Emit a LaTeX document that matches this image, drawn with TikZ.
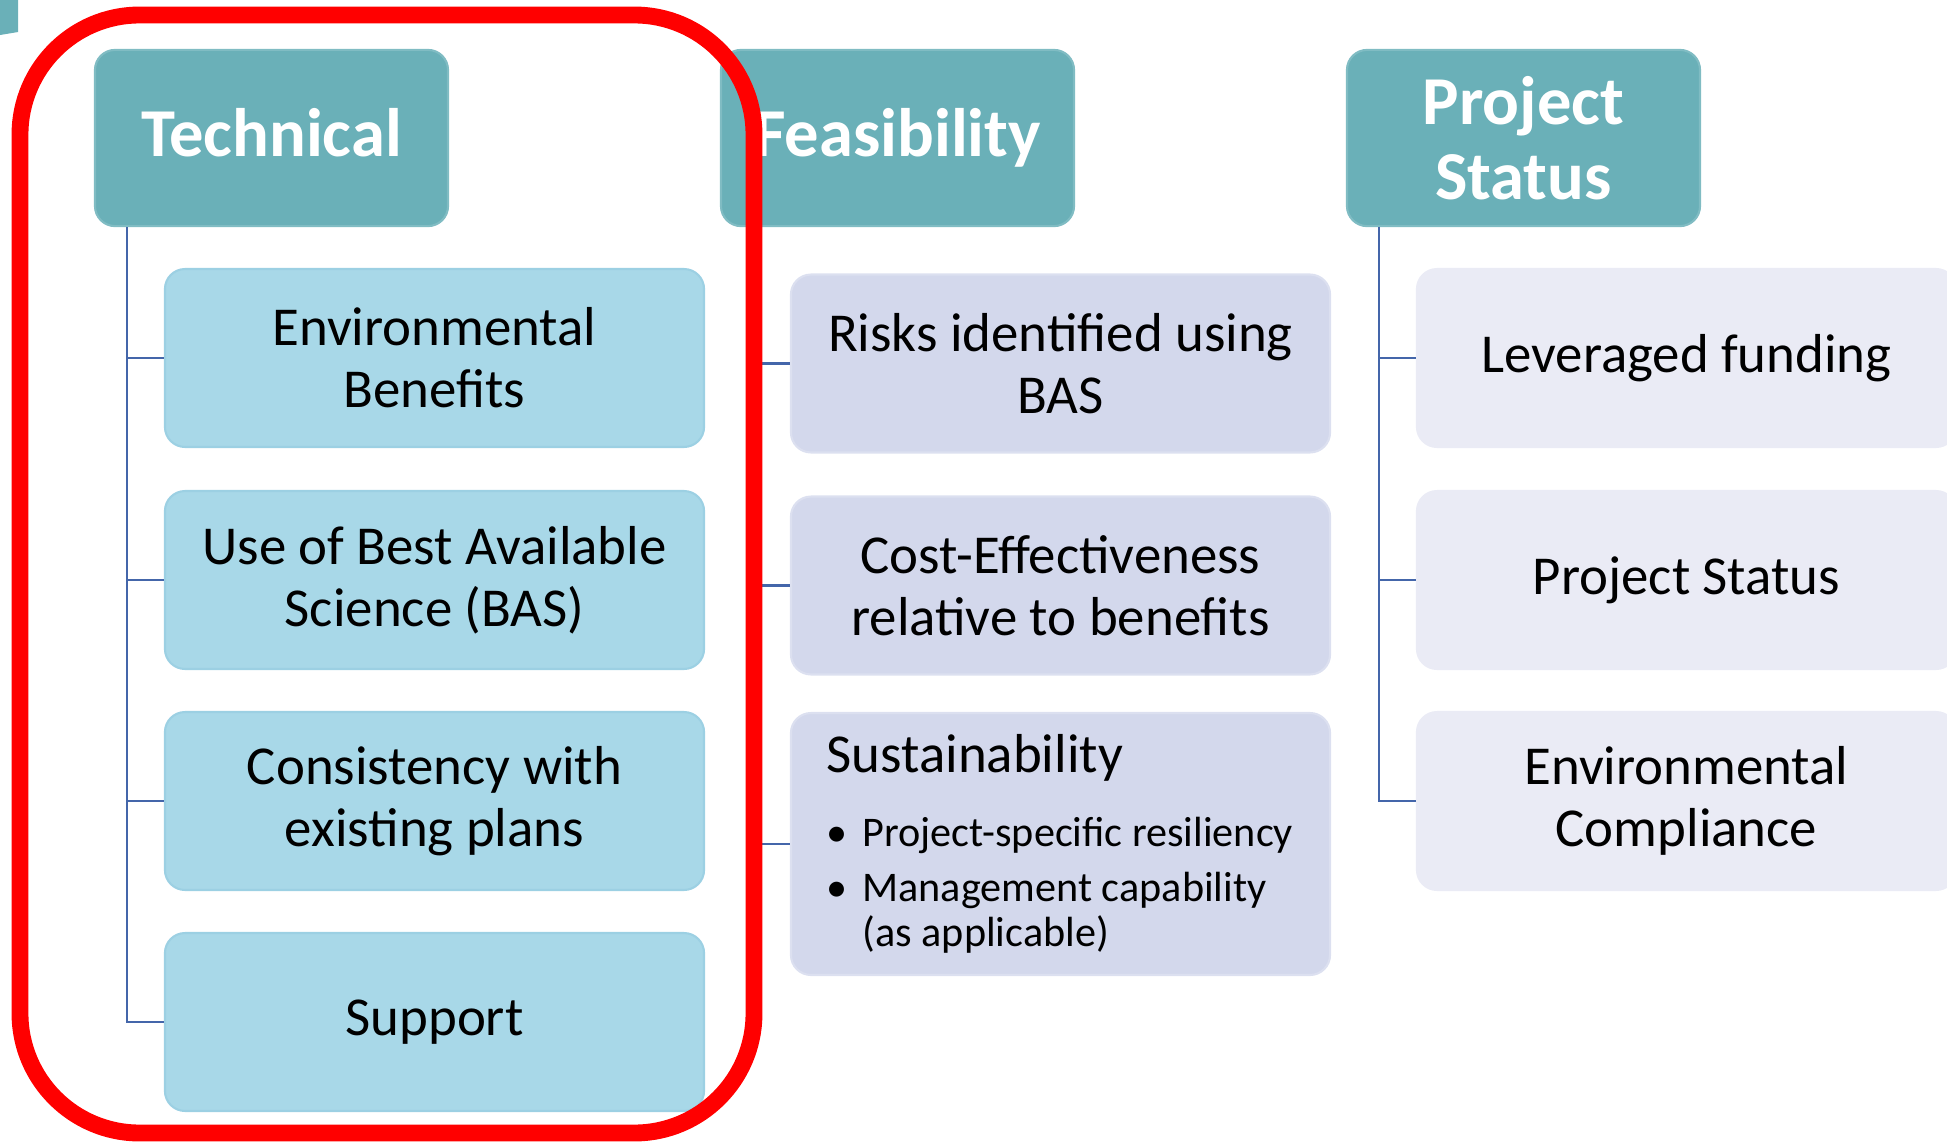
\documentclass[tikz,border=0pt]{standalone}
\usepackage{fontspec}
\setmainfont{Carlito}
\usepackage{tikz}

\definecolor{headteal}{HTML}{6AB0B8}
\definecolor{techblue}{HTML}{A8D8E8}
\definecolor{techedge}{HTML}{9CD0E3}
\definecolor{feaslav}{HTML}{D3D8EC}
\definecolor{feasedge}{HTML}{DCE0F0}
\definecolor{statgrey}{HTML}{EAEBF5}
\definecolor{linkblue}{HTML}{4466AA}
\definecolor{markred}{HTML}{FF0000}

\begin{document}
\begin{tikzpicture}[x=0.01cm, y=-0.01cm,
    headbox/.style={rounded corners=5.7pt, fill=headteal, draw=headteal!85!white, line width=0.6pt,
      text=white, font=\bfseries\fontsize{19.5}{21.3}\selectfont, align=center,
      minimum width=100.4pt, minimum height=50.1pt, inner sep=0pt},
    headone/.style={headbox, text height=10.8pt, text depth=0pt},
    subbox/.style={rounded corners=5.7pt, line width=0.6pt, font=\fontsize{15.6}{17.6}\selectfont,
      align=center, minimum width=153.3pt, minimum height=50.6pt, inner sep=0pt},
    techbox/.style={subbox, fill=techblue, draw=techedge},
    feasbox/.style={subbox, fill=feaslav, draw=feasedge},
    statbox/.style={subbox, fill=statgrey, draw=statgrey},
    linkline/.style={draw=linkblue, line width=0.75pt},
    subline/.style={anchor=base west, inner sep=0pt, font=\fontsize{12}{12.8}\selectfont}]

  \useasboundingbox (0,0) rectangle (1947,1145);
  \clip (0,0) rectangle (1947,1145);

  % piece of the previous slide shape
  \fill[headteal] (0,0) -- (18,0) -- (18,32) -- (0,35) -- cycle;

  % headers
  \node[headone] (tech) at (271.5,138) {Technical};
  \node[headone] (feas) at (897.5,138) {Feasibility};
  \node[headbox] (stat) at (1523.5,138) {Project\\Status};

  % technical
  \node[techbox] (t1) at (434.5,358) {Environmental\\Benefits};
  \node[techbox] (t2) at (434.5,580) {Use of Best Available\\Science (BAS)};
  \node[techbox] (t3) at (434.5,801) {Consistency with\\existing plans};
  \node[techbox] (t4) at (434.5,1022) {Support};

  % feasibility
  \node[feasbox] (f1) at (1060.5,363.5) {Risks identified using\\BAS};
  \node[feasbox] (f2) at (1060.5,585.5) {Cost-Effectiveness\\relative to benefits};
  \node[feasbox, minimum height=74.5pt] (f3) at (1060.5,844) {};
  \node[anchor=base west, inner sep=0pt, font=\fontsize{15.6}{17.6}\selectfont] (sushead) at (826,772) {Sustainability};
  \node[subline] (susa) at (826,846) {\makebox[10.2pt][l]{\textbullet}Project-specific resiliency};
  \node[subline] (susb) at (826,901) {\makebox[10.2pt][l]{\textbullet}Management capability};
  \node[subline] (susc) at (862,946) {(as applicable)};

  % project status
  \node[statbox] (s1) at (1686.5,358) {Leveraged funding};
  \node[statbox] (s2) at (1686.5,580) {Project Status};
  \node[statbox] (s3) at (1686.5,801) {Environmental\\Compliance};

  % connectors
  \coordinate (tv) at ([xshift=9.4pt]tech.south west);
  \coordinate (fv) at ([xshift=9.4pt]feas.south west);
  \coordinate (sv) at ([xshift=9.4pt]stat.south west);
  \draw[linkline] (tv) |- (t4.west);
  \draw[linkline] (fv) |- (f3.west);
  \draw[linkline] (sv) |- (s3.west);
  \foreach \c in {t1,t2,t3}
    \draw[linkline] (tv |- \c.west) -- (\c.west);
  \foreach \c in {f1,f2}
    \draw[linkline] (fv |- \c.west) -- (\c.west);
  \foreach \c in {s1,s2}
    \draw[linkline] (sv |- \c.west) -- (\c.west);

  % highlight
  \draw[markred, line width=4.8pt, rounded corners=34pt] (20,15) rectangle (754,1133);
\end{tikzpicture}
\end{document}
